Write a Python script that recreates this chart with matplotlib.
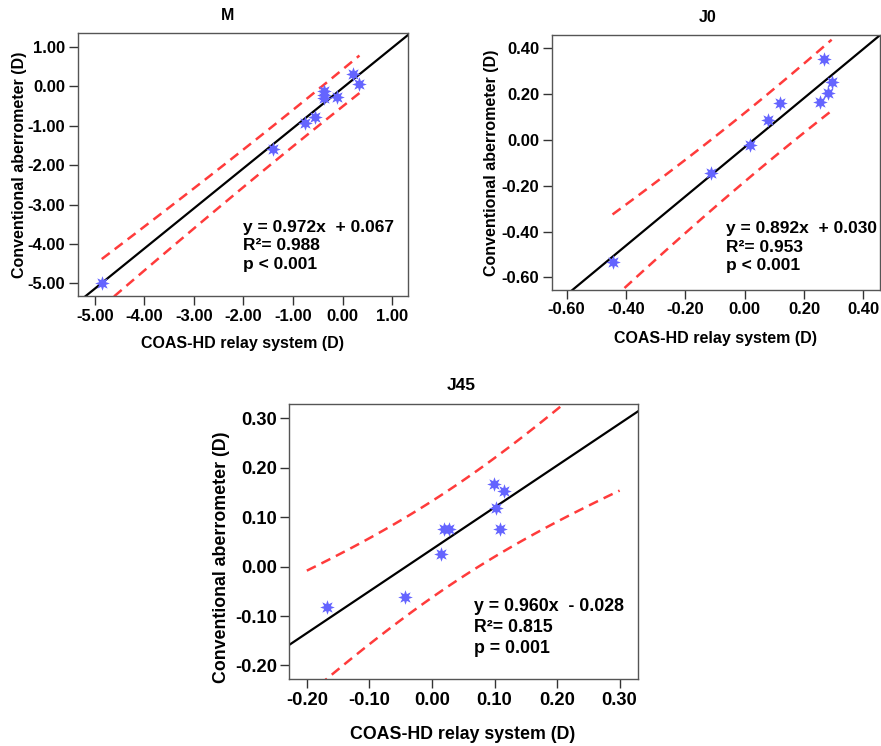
import numpy as np
import matplotlib.pyplot as plt

plt.rcParams['font.family'] = ['Liberation Sans', 'DejaVu Sans']
plt.rcParams['font.weight'] = 'bold'

# M (spherical equivalent)
m_x = [-4.86, -1.41, -0.76, -0.56, -0.37, -0.38, -0.37, -0.12, 0.22, 0.34]
m_y = [-4.98, -1.58, -0.93, -0.79, -0.12, -0.31, -0.22, -0.28, 0.31, 0.05]

# J0
j0_x = [-0.445, -0.113, 0.018, 0.080, 0.119, 0.267, 0.254, 0.282, 0.293]
j0_y = [-0.534, -0.146, -0.022, 0.087, 0.160, 0.352, 0.167, 0.203, 0.254]

# J45
j45_x = [-0.168, -0.043, 0.014, 0.020, 0.028, 0.0985, 0.1156, 0.103, 0.109]
j45_y = [-0.081, -0.062, 0.026, 0.076, 0.076, 0.167, 0.154, 0.118, 0.076]

titles = ['M', 'J0', 'J45']
stats = ['y = 0.972x  + 0.067\nR²= 0.988\np < 0.001',
         'y = 0.892x  + 0.030\nR²= 0.953\np < 0.001',
         'y = 0.960x  - 0.028\nR²= 0.815\np = 0.001']

m_ticks = [-5, -4, -3, -2, -1, 0, 1]
j0_ticks = [-0.6, -0.4, -0.2, 0.0, 0.2, 0.4]
j45_ticks = [-0.2, -0.1, 0.0, 0.1, 0.2, 0.3]

xlab = 'COAS-HD relay system (D)'
ylab = 'Conventional aberrometer (D)'

fig = plt.figure(figsize=(8.81, 7.46), dpi=100)

panels = [
    # data, axes rect, xlim, ylim, ticks, band x range, text pos, xlabel pos, ylabel pos,
    # font sizes (ticks, labels, stats, title), title pos (px)
    (m_x, m_y, [0.0885, 0.6032, 0.3746, 0.3525], (-5.34, 1.32), (-5.32, 1.35),
     m_ticks, None, (0.50, 0.29), (0.5, -0.179), (-0.176, 0.5),
     (12, 11.5, 12.5, 11.5), (228, 15)),
    (j0_x, j0_y, [0.6262, 0.6113, 0.3727, 0.3418], (-0.65, 0.456), (-0.655, 0.458),
     j0_ticks, None, (0.53, 0.27), (0.4995, -0.192), (-0.183, 0.5),
     (12, 11.5, 12.5, 11.5), (708, 17)),
    (j45_x, j45_y, [0.3284, 0.0894, 0.3955, 0.369], (-0.228, 0.329), (-0.228, 0.329),
     j45_ticks, (-0.20, 0.30), (0.53, 0.295), (0.4986, -0.202), (-0.194, 0.445),
     (13.2, 12.8, 12.8, 12.5), (461, 385)),
]

for i, (x, y, rect, xl, yl, ticks, brange, tpos, xlpos, ylpos, fs, tt) in enumerate(panels):
    x = np.array(x)
    y = np.array(y)
    ax = fig.add_axes(rect)
    ax.set_xlim(xl)
    ax.set_ylim(yl)

    # fit line
    b, a = np.polyfit(x, y, 1)
    xx = np.array(xl)
    ax.plot(xx, a + b * xx, color='black', lw=1.6, zorder=2)

    # 95% prediction interval
    n = len(x)
    res = y - (a + b * x)
    s = np.sqrt(np.sum(res ** 2) / (n - 2))
    sxx = np.sum((x - x.mean()) ** 2)
    if brange is None:
        brange = (x.min(), x.max())
    xb = np.linspace(brange[0], brange[1], 100)
    hw = 2.306 * s * np.sqrt(1 + 1 / n + (xb - x.mean()) ** 2 / sxx)
    yb = a + b * xb
    ax.plot(xb, yb + hw, color='#ff3b3b', lw=1.8, ls=(0, (4, 2.5)), zorder=2)
    ax.plot(xb, yb - hw, color='#ff3b3b', lw=1.8, ls=(0, (4, 2.5)), zorder=2)

    ax.scatter(x, y, marker=(8, 1, 0), s=110, color='#6464ff', lw=0, zorder=3)

    ax.set_xticks(ticks)
    ax.set_yticks(ticks)
    ax.set_xticklabels(['%.2f' % t for t in ticks])
    ax.set_yticklabels(['%.2f' % t for t in ticks])
    ax.tick_params(labelsize=fs[0], length=6.5, width=1, color='#333333', pad=2.5)
    for sp in ax.spines.values():
        sp.set_color('#555555')
        sp.set_linewidth(1)

    ax.set_xlabel(xlab, fontsize=fs[1], fontweight='bold', va='center')
    ax.set_ylabel(ylab, fontsize=fs[1], fontweight='bold', va='center')
    ax.xaxis.set_label_coords(*xlpos)
    ax.yaxis.set_label_coords(*ylpos)

    ax.text(tpos[0], tpos[1], stats[i], transform=ax.transAxes, fontsize=fs[2],
            fontweight='bold', va='top', ha='left', linespacing=1.3)

    fig.text(tt[0] / 881, 1 - tt[1] / 746, titles[i], fontsize=fs[3],
             fontweight='bold', ha='center', va='center')

fig.savefig('out.png', dpi=100, facecolor='white')
